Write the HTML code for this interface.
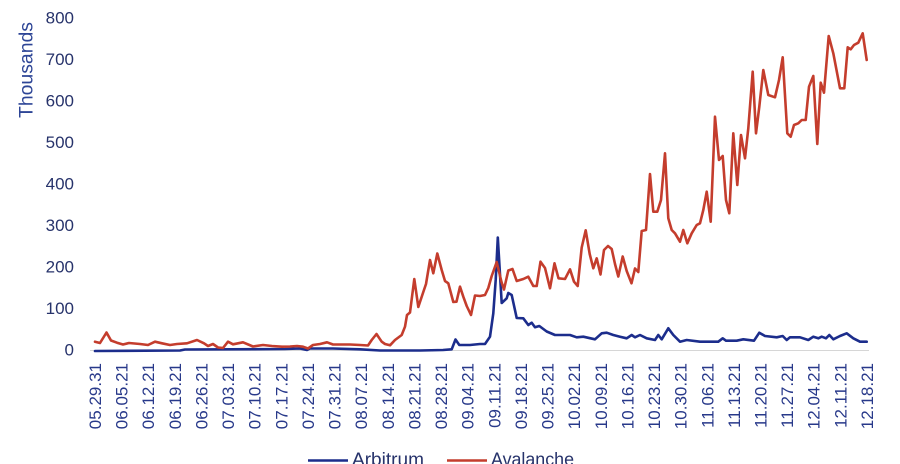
<!DOCTYPE html>
<html>
<head>
<meta charset="utf-8">
<style>
html,body{margin:0;padding:0;background:#ffffff;}
svg{display:block;}
</style>
</head>
<body>
<svg width="900" height="464" viewBox="0 0 900 464" xmlns="http://www.w3.org/2000/svg">
<rect x="0" y="0" width="900" height="464" fill="#ffffff"/>
<!-- Y axis title -->
<text transform="translate(32.5,70) rotate(-90)" text-anchor="middle" font-family="Liberation Sans, sans-serif" font-size="19" fill="#2d4596" textLength="96" lengthAdjust="spacingAndGlyphs">Thousands</text>
<!-- Y tick labels -->
<g font-family="Liberation Sans, sans-serif" font-size="17" fill="#27336b" text-anchor="end">
<text x="74" y="23.5">800</text>
<text x="74" y="65">700</text>
<text x="74" y="106.5">600</text>
<text x="74" y="148">500</text>
<text x="74" y="189.5">400</text>
<text x="74" y="231">300</text>
<text x="74" y="272.5">200</text>
<text x="74" y="314">100</text>
<text x="74" y="355.7">0</text>
</g>
<!-- baseline axis -->
<line x1="90" y1="350.5" x2="869" y2="350.5" stroke="#d6d6d6" stroke-width="1"/>
<!-- X tick labels -->
<g font-family="Liberation Sans, sans-serif" font-size="17" fill="#28398a" text-anchor="end">
<text transform="translate(101,363) rotate(-90)">05.29.31</text>
<text transform="translate(127.6,363) rotate(-90)">06.05.21</text>
<text transform="translate(154.2,363) rotate(-90)">06.12.21</text>
<text transform="translate(180.9,363) rotate(-90)">06.19.21</text>
<text transform="translate(207.5,363) rotate(-90)">06.26.21</text>
<text transform="translate(234.1,363) rotate(-90)">07.03.21</text>
<text transform="translate(260.7,363) rotate(-90)">07.10.21</text>
<text transform="translate(287.3,363) rotate(-90)">07.17.21</text>
<text transform="translate(314,363) rotate(-90)">07.24.21</text>
<text transform="translate(340.6,363) rotate(-90)">07.31.21</text>
<text transform="translate(367.2,363) rotate(-90)">08.07.21</text>
<text transform="translate(393.8,363) rotate(-90)">08.14.21</text>
<text transform="translate(420.4,363) rotate(-90)">08.21.21</text>
<text transform="translate(447.1,363) rotate(-90)">08.28.21</text>
<text transform="translate(473.7,363) rotate(-90)">09.04.21</text>
<text transform="translate(500.3,363) rotate(-90)">09.11.21</text>
<text transform="translate(526.9,363) rotate(-90)">09.18.21</text>
<text transform="translate(553.5,363) rotate(-90)">09.25.21</text>
<text transform="translate(580.2,363) rotate(-90)">10.02.21</text>
<text transform="translate(606.8,363) rotate(-90)">10.09.21</text>
<text transform="translate(633.4,363) rotate(-90)">10.16.21</text>
<text transform="translate(660,363) rotate(-90)">10.23.21</text>
<text transform="translate(686.6,363) rotate(-90)">10.30.21</text>
<text transform="translate(713.3,363) rotate(-90)">11.06.21</text>
<text transform="translate(739.9,363) rotate(-90)">11.13.21</text>
<text transform="translate(766.5,363) rotate(-90)">11.20.21</text>
<text transform="translate(793.1,363) rotate(-90)">11.27.21</text>
<text transform="translate(819.7,363) rotate(-90)">12.04.21</text>
<text transform="translate(846.4,363) rotate(-90)">12.11.21</text>
<text transform="translate(873,363) rotate(-90)">12.18.21</text>
</g>
<!-- Arbitrum (blue) -->
<polyline fill="none" stroke="#1c2d8c" stroke-width="2.6" stroke-linejoin="round" stroke-linecap="round" points="
95,351 180,350.5 185,349.5 285,349 300,348.5 307,350 310,348.5 333,348.5 360,349.3 380,350.5 420,350.5 443,350 451.7,349.3
455.5,339.5 459.3,345 470,345 480,344 485,344 490,336.7 493.3,313.3 495.7,280 497.8,237.5 501.7,303 506.7,298.3 508.3,293
511.7,295 516.7,318 523.3,318.3 528.3,325 531.7,322.7 535,327.3 539.3,326 546.7,331.5 555,335 570,335 576.7,337.3 583.3,336.7
595,339.3 601.7,333.3 606.7,332.7 613.3,335 620,336.7 626.7,338.3 631.7,335 635,337.3 640,335 646.7,338.3 655,340 658.3,335
661.7,339.3 668.3,328.3 673.3,335 680,341.7 686.7,340 700,341.7 713.3,341.7 718.3,341.7 722.7,338.3 726,340.7 736.7,340.7
743.3,339.3 754,340.7 759.3,332.7 765,336 776.7,337.3 782.7,336 786.7,340 790,337.3 800,337.3 808.3,340 813.3,336.7 818.3,338.3
821.7,336.7 826,338.3 829.3,335 833.3,339.3 840,336 846.7,333.3 853.3,338.3 860,341.7 866.7,341.7"/>
<!-- Avalanche (red) -->
<polyline fill="none" stroke="#c43d2d" stroke-width="2.6" stroke-linejoin="round" stroke-linecap="round" points="
95,341.7 100,343 106.5,332.5 111,340.5 117,342.7 123,344.5 129,343 140,344 148,345 155,341.7 162,343.3 170,345 177,344
187,343.3 197,340 204,343.3 208,346 213,344 218,347.5 223,348 228,341.7 233,344.3 243,342.3 253,346.5 263,345 272,346
282,346.7 290,346.5 297,346 303,346.7 308,348.5 313,345 320,344 327,342.3 333,344.5 343,344.5 350,344.5 360,345 368,345.5
371.7,340 376.5,334 381.7,341.7 385,344 390,345.3 395,340 401.7,335 405,326.7 407,315 410,312.5 414.3,279 418.3,307
423.3,292 426,284 430,260 433.3,273.3 437.3,253.5 441.7,270 445,281 448.3,283.3 453.3,302 456.5,301.7 460,286.7 463.3,296.7
466.7,306 471,315 475,295.5 480,296 485,295 488.3,288 491.7,276 496.7,262 501.5,282 504,289.5 508.3,270.5 512.5,269
516.7,281 523.3,279 528.3,276.7 533.3,286 536.7,286 540.5,261.7 545,268 550,288.3 554.5,263.3 558.5,278.3 565,279 570,269.3
574,281.7 577.7,286 581.7,247.5 585.7,230.3 589.7,254 593.3,268.3 596.7,258.3 600.5,274.5 604,250 608,246 611.7,249 615,264
618.3,276.5 622.7,256.5 626.7,271 631.5,283.3 635,268.5 638.3,272 641.7,231 646,230 650,174 653.3,211.7 657.3,211.7 661,200
665,153.3 668.3,218.3 671.7,230 675,233.3 680,241.7 683.3,230 687.3,243.3 691.7,233.3 696.7,225 700,223.3 703.3,210
706.7,191.7 710.7,221.7 715,116.7 719,160 722.7,156 726,200 729.3,213.3 733.3,133.3 737.3,185 741,135 745,158.3 748.3,128.3
752.7,71.7 756,133.3 759.3,106.7 763.3,70 768.3,95 775,97.3 779,80 782.7,57.3 787.3,133.3 790.7,136.7 794,125 798.3,123.3
801.7,120 805.7,120 809,86.7 813.3,76 817.3,144 820.7,82.7 824,92.7 828.7,36 833.3,53.3 840,88.3 844.3,88.3 847.7,47.3
850.7,49.3 854,45 858.3,42.7 862.7,33.3 866.7,60"/>
<!-- Legend -->
<line x1="308" y1="460.5" x2="348" y2="460.5" stroke="#1c2d8c" stroke-width="2.6"/>
<text x="352" y="465.5" font-family="Liberation Sans, sans-serif" font-size="18.5" fill="#27336b" textLength="72" lengthAdjust="spacingAndGlyphs">Arbitrum</text>
<line x1="447" y1="460.5" x2="487" y2="460.5" stroke="#c43d2d" stroke-width="2.6"/>
<text x="491" y="465.5" font-family="Liberation Sans, sans-serif" font-size="18.5" fill="#27336b" textLength="83" lengthAdjust="spacingAndGlyphs">Avalanche</text>
</svg>
</body>
</html>
